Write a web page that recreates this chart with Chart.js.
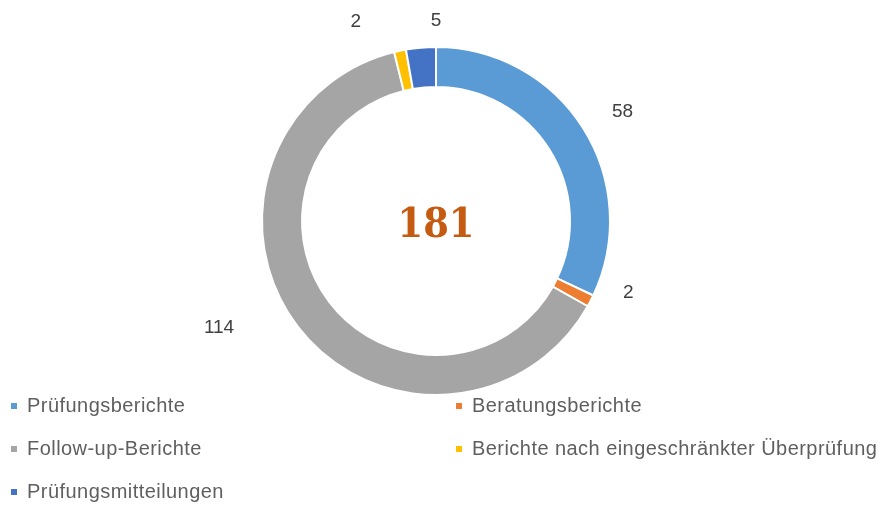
<!DOCTYPE html>
<html>
<head>
<meta charset="utf-8">
<script src="https://cdn.jsdelivr.net/npm/chart.js@4.4.1/dist/chart.umd.min.js"></script>
<style>
    html, body { margin: 0; padding: 0; background: #fff; }
    #wrap { position: relative; width: 884px; height: 508px; overflow: hidden; }
    #legend { position: absolute; left: 0; top: 0; width: 884px; height: 508px; pointer-events: none; }
    .item { position: absolute; font-family: "Liberation Sans", Arial, sans-serif;
            font-size: 20px; letter-spacing: 0.45px; color: #5f5f5f; white-space: nowrap; line-height: 24px; }
    .item span.box { display: inline-block; width: 6px; height: 6px; margin-right: 10px; vertical-align: middle; position: relative; top: -1px; }
</style>
</head>
<body>
<div id="wrap">
    <canvas id="chart" width="884" height="508"></canvas>
    <div id="legend"></div>
</div>
<script>
const labels = ['Prüfungsberichte', 'Beratungsberichte', 'Follow-up-Berichte', 'Berichte nach eingeschränkter Überprüfung', 'Prüfungsmitteilungen'];
const values = [58, 2, 114, 2, 5];
const colors = ['#5b9bd5', '#ed7d31', '#a5a5a5', '#ffc000', '#4472c4'];
const totalText = '181';

// legend in two columns, like the original
function buildLegend() {
    const legend = document.getElementById('legend');
    labels.forEach((label, i) => {
        const div = document.createElement('div');
        div.className = 'item';
        div.style.left = (i % 2 === 0 ? 11 : 456) + 'px';
        div.style.top = (393 + Math.floor(i / 2) * 43) + 'px';
        div.innerHTML = `<span class="box" style="background:${colors[i]}"></span>${label}`;
        legend.appendChild(div);
    });
}

// value labels sit outside the ring; distance (px) and turn (deg) per slice
const labelDist = [42, 31, 68, 41, 26];
const labelTurn = [2, -7, 11, -10, 5];

const outsideLabels = {
    id: 'outsideLabels',
    afterDatasetsDraw(chart) {
        const ctx = chart.ctx;
        const arcs = chart.getDatasetMeta(0).data;
        ctx.save();
        ctx.font = '19px "Liberation Sans", Arial, sans-serif';
        ctx.fillStyle = '#404040';
        ctx.textAlign = 'center';
        ctx.textBaseline = 'middle';
        arcs.forEach((arc, i) => {
            const mid = (arc.startAngle + arc.endAngle) / 2 + labelTurn[i] * Math.PI / 180;
            const r = arc.outerRadius + labelDist[i];
            ctx.fillText(String(values[i]), arc.x + Math.cos(mid) * r, arc.y + Math.sin(mid) * r);
        });

        ctx.font = 'bold 41px "DejaVu Serif Condensed", "DejaVu Serif", serif';
        ctx.fillStyle = '#c55a11';
        ctx.fillText(totalText, arcs[0].x, arcs[0].y + 5);
        ctx.restore();
    }
};

new Chart(document.getElementById('chart').getContext('2d'), {
    type: 'doughnut',
    data: {
        labels: labels,
        datasets: [{
            data: values,
            backgroundColor: colors,
            borderColor: '#ffffff',
            borderWidth: 2
        }]
    },
    options: {
        responsive: false,
        animation: false,
        cutout: '77%',
        layout: { padding: { top: 46, bottom: 112, left: 0, right: 12 } },
        plugins: {
            legend: { display: false },
            tooltip: { enabled: false }
        }
    },
    plugins: [outsideLabels]
});

buildLegend();
</script>
</body>
</html>
